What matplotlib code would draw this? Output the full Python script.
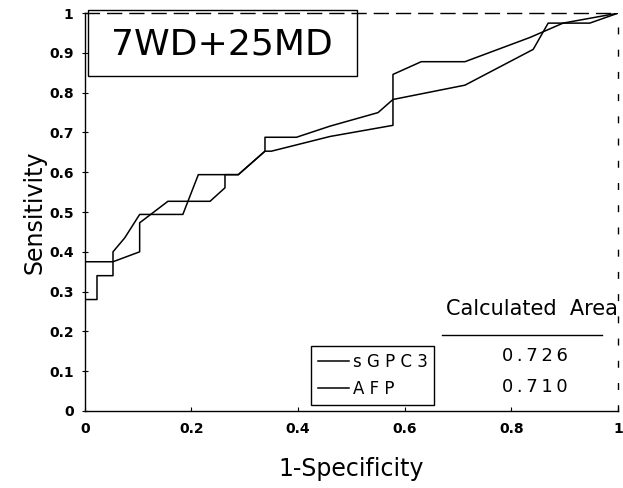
import matplotlib
matplotlib.use("Agg")
from matplotlib import pyplot as plt
from matplotlib.patches import Rectangle

# ROC curves (1-specificity, sensitivity)
sgpc3_fpr = [0, 0.053, 0.053, 0.075, 0.103, 0.184, 0.213, 0.288, 0.338, 0.35,
             0.46, 0.578, 0.578, 0.631, 0.713, 0.835, 0.897, 1.0]
sgpc3_tpr = [0.375, 0.375, 0.40, 0.435, 0.494, 0.494, 0.594, 0.594, 0.653, 0.653,
             0.69, 0.718, 0.846, 0.878, 0.878, 0.939, 0.975, 1.0]

afp_fpr = [0, 0.023, 0.023, 0.053, 0.053, 0.103, 0.103, 0.11, 0.156, 0.235, 0.263,
           0.263, 0.288, 0.338, 0.338, 0.397, 0.46, 0.55, 0.578, 0.713, 0.841,
           0.869, 0.947, 1.0]
afp_tpr = [0.28, 0.28, 0.34, 0.34, 0.375, 0.40, 0.473, 0.48, 0.527, 0.527, 0.561,
           0.594, 0.594, 0.653, 0.688, 0.688, 0.716, 0.75, 0.783, 0.819, 0.909,
           0.975, 0.975, 1.0]

labels = ["s G P C 3", "A F P"]
areas = ["0.726", "0.710"]
ticks = [0, 0.1, 0.2, 0.3, 0.4, 0.5, 0.6, 0.7, 0.8, 0.9, 1]
xticks = [0, 0.2, 0.4, 0.6, 0.8, 1]

fig = plt.figure(figsize=(6.23, 4.88), dpi=100)
ax = fig.add_axes([0.136, 0.158, 0.856, 0.815])

l1, = ax.plot(sgpc3_fpr, sgpc3_tpr, color="black", lw=1.1)
l2, = ax.plot(afp_fpr, afp_tpr, color="black", lw=1.1)

ax.set_xlim(0, 1)
ax.set_ylim(0, 1)
ax.set_xticks(xticks)
ax.set_yticks(ticks)
ax.set_xticklabels(["0", "0.2", "0.4", "0.6", "0.8", "1"])
ax.set_yticklabels(["0", "0.1", "0.2", "0.3", "0.4", "0.5", "0.6", "0.7", "0.8", "0.9", "1"])
ax.tick_params(axis="x", direction="in", length=3, labelsize=10, pad=8)
ax.tick_params(axis="y", direction="inout", length=4, labelsize=10, pad=6)
for t in ax.get_xticklabels() + ax.get_yticklabels():
    t.set_fontweight("bold")

ax.spines["top"].set_linestyle((0, (10, 6)))
ax.spines["right"].set_linestyle((0, (4, 12)))
for s in ax.spines.values():
    s.set_linewidth(1.0)

ax.set_xlabel("1-Specificity", fontsize=17, labelpad=15)
ax.set_ylabel("Sensitivity", fontsize=17, labelpad=2)

# title box
ax.add_patch(Rectangle((0.006, 0.841), 0.504, 0.167, fill=False, ec="black",
                       lw=1.0, transform=ax.transData, clip_on=False))
ax.text(0.258, 0.922, "7WD+25MD", fontsize=26, ha="center", va="center")

# legend
ax.legend([l1, l2], labels, loc="lower left", bbox_to_anchor=(0.424, 0.015),
          borderaxespad=0, fontsize=12, frameon=True, fancybox=False,
          edgecolor="black", framealpha=1, handlelength=1.9, handletextpad=0.2,
          borderpad=0.4, labelspacing=0.55)

# area table
ax.text(0.677, 0.257, "Calculated  Area", fontsize=15, ha="left", va="center")
ax.plot([0.67, 0.97], [0.191, 0.191], color="black", lw=1.0)
for v, y in zip(areas, [0.137, 0.061]):
    ax.text(0.844, y, "\u2009".join(v), fontsize=13, ha="center", va="center")

fig.savefig("out.png", dpi=100)
